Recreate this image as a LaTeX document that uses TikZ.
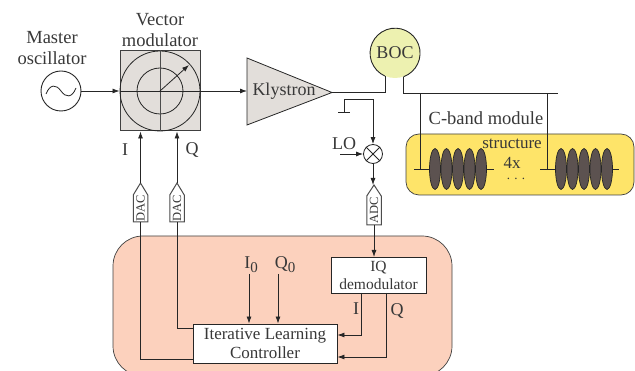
\documentclass[tikz,border=0pt]{standalone}
\usepackage{fontspec}
\setmainfont{Liberation Serif}
\usetikzlibrary{arrows.meta}
\newcommand{\fs}[1]{\fontsize{#1}{#1}\selectfont}
\tikzset{
  x=1pt,y=-1pt,
  wire/.style={draw=black!85,line width=0.8pt},
  arr/.style={wire,-{Latex[length=7pt,width=5pt]}},
  lbl/.style={inner sep=0pt,text=black!78,align=center,font=\fs{18.5}},
  ctrl/.style={draw=black!85,line width=0.9pt,fill=white,inner sep=0pt,text=black!78,align=center},
  conv/.style={fill=white,inner sep=0pt,minimum width=14.5pt,minimum height=27pt,rotate=90,text=black!78,font=\fs{12.5}},
  roof/.style={draw=black!70,line width=1pt,line join=miter},
  cav/.style={draw=black!85,line width=0.7pt,fill=cavc,ellipse,minimum width=11pt,minimum height=41pt,inner sep=0pt},
  beam/.style={wire},
}
\usetikzlibrary{shapes.geometric}
\definecolor{boxc}{HTML}{E2DEDA}
\definecolor{yellowc}{HTML}{FEE469}
\definecolor{salmonc}{HTML}{FCD1BD}
\definecolor{bocc}{HTML}{EDF1B0}
\definecolor{cavc}{HTML}{5C5250}
\begin{document}
\begin{tikzpicture}
\useasboundingbox (0,0) rectangle (635,371);
% background regions
\begin{scope}
\clip (0,0) rectangle (635,371);
\draw[draw=black!75,line width=0.7pt,fill=salmonc,rounded corners=30pt] (113,236) rectangle (452,376);
\end{scope}
\draw[draw=black!75,line width=0.7pt,fill=yellowc,rounded corners=13pt] (406,134) rectangle (634,195);

% labels top-left
\node[lbl] at (52,48) {Master\\[3pt]oscillator};
\node[lbl] at (160,30) {Vector\\[3pt]modulator};

% oscillator
\node[circle,draw=black!85,line width=0.9pt,minimum size=40pt,inner sep=0pt] (osc) at (61,91) {};
\draw[black!85,line width=0.8pt] (46,94) .. controls (50,84) and (56,84) .. (61,91) .. controls (66,98) and (72,98) .. (76,88);

% vector modulator
\node[draw=black!75,line width=1pt,fill=boxc,minimum size=80pt,inner sep=0pt] (vm) at (160,91) {};
\node[circle,draw=black!85,line width=0.8pt,minimum size=80pt,inner sep=0pt] (vmo) at (vm.center) {};
\node[circle,draw=black!85,line width=0.8pt,minimum size=46pt,inner sep=0pt] (vmi) at (vm.center) {};
\draw[wire,black!70] (vm.north) -- (vm.south);
\draw[wire] (vm.west) -- (vm.east);
\coordinate (vmtip) at (189,65);
\draw[arr] (vm.center) -- (vmtip);

% klystron
\coordinate (kw) at (247,91);
\coordinate (kt) at (332,92.5);
\draw[draw=black!85,line width=0.8pt,fill=boxc] (247,58) -- (kt) -- (247,125) -- cycle;
\node[lbl,font=\fs{18}] (kly) at (284,91) {Klystron};

\draw[arr] (osc.east) -- (vm.west);
\draw[arr] (vm.east) -- (kw);

% BOC
\node[circle,fill=bocc,minimum size=50pt,inner sep=0pt,text=black!78,font=\fs{18}] (boc) at (395,53) {BOC};
\draw[black!85,line width=0.9pt] (boc.-70) arc[start angle=-70,end angle=246,radius=25pt];
\coordinate (bend1) at (385,92.5);
\coordinate (bend) at (403,94);
\coordinate (wgend) at (558,94);
\draw[wire,line width=1pt] (kt) -- (bend1) -- (bend1 |- boc.246);
\draw[wire,line width=1pt] (bend |- boc.-70) -- (bend) -- (wgend);

% LO branch
\coordinate (gnd) at (344,112);
\coordinate (gl) at (338,112);
\coordinate (gr) at (350,112);
\draw[wire] (gl) -- (gr);
\node[circle,draw=black!85,line width=0.8pt,fill=white,minimum size=19pt,inner sep=0pt] (mix) at (373,154) {};
\draw[wire] (mix.north west) -- (mix.south east);
\draw[wire] (mix.north east) -- (mix.south west);
\draw[arr] (gnd) -- (344,99) -- (373,99) -- (mix.north);
\node[lbl,font=\fs{18}] (lo) at (344,144) {LO};
\coordinate (lofree) at (340,154);
\draw[arr] (lofree) -- (mix.west);

% accelerating structures
\draw[beam] (414,169) -- (494,169);
\draw[beam] (540,169) -- (619,169);
\draw[wire] (420,94) -- (420,169);
\draw[wire] (547,94) -- (547,169);
\foreach \n/\x in {a/435,b/446.5,c/458,d/469.5,e/481,f/561,g/572.5,h/584,i/595.5,j/607}{
  \node[cav] (cav\n) at (\x,169) {};
}
\node[lbl] (cband) at (486,118) {C-band module};
\node[lbl,font=\fs{17}] (st) at (512,144) {structure};
\node[lbl,font=\fs{17}] (fx) at (512,163) {4x};
\node[lbl,font=\fs{13}] (dots) at (516,178.5) {. . .};

% converters
\foreach \n/\x/\t in {dac1/140.5/DAC,dac2/177/DAC}{
  \node[conv] (\n) at (\x,208.5) {\t};
  \coordinate (\n t) at (\x,183);
  \coordinate (\n l) at (\x-7.25,195);
  \coordinate (\n r) at (\x+7.25,195);
  \draw[roof,fill=white] (\n t) -- (\n r) -- (\x+7.25,222) -- (\x-7.25,222) -- (\n l) -- cycle;
  \node[conv,fill=none] at (\n) {\t};
}
\node[conv,minimum height=29pt] (adc) at (374,210) {ADC};
\coordinate (adct) at (374,185);
\draw[roof,fill=white] (adct) -- (381.25,196) -- (381.25,225) -- (366.75,225) -- (366.75,196) -- cycle;
\node[conv,fill=none] at (adc) {ADC};

\draw[arr] (mix.south) -- (373,185);
\draw[arr] (dac1t) -- (dac1t |- vm.south);
\draw[arr] (dac2t) -- (dac2t |- vm.south);
\node[lbl,font=\fs{18}] (li) at (125,150) {I};
\node[lbl,font=\fs{18}] (lq) at (192,150) {Q};

% lower block
\node[ctrl,font=\fs{15.5},minimum width=95pt,minimum height=36pt] (iq) at (378.5,275) {IQ\\[2.5pt]demodulator};
\node[ctrl,font=\fs{17},minimum width=144pt,minimum height=39pt] (ilc) at (265,343.5) {Iterative Learning\\[2pt]Controller};
\draw[arr] (374,225) -- (374,257);
\coordinate (iqi) at (361,293);
\coordinate (iqq) at (386,293);
\draw[arr] (iqi) -- (361,335) -- (ilc.east |- 0,335);
\draw[arr] (iqq) -- (386,357) -- (ilc.east |- 0,357);
\node[lbl,font=\fs{18}] (li2) at (356,309) {I};
\node[lbl,font=\fs{18}] (lq2) at (397,311) {Q};
\node[lbl,font=\fs{18}] (i0) at (251,265) {I\raisebox{-4pt}{\fs{15}0}};
\node[lbl,font=\fs{18}] (q0) at (285,265) {Q\raisebox{-4pt}{\fs{15}0}};
\coordinate (i0s) at (249,274);
\coordinate (q0s) at (278,274);
\draw[arr] (i0s) -- (i0s |- ilc.north);
\draw[arr] (q0s) -- (q0s |- ilc.north);
\draw[wire] (140.5,222) -- (140.5,359) -- (ilc.west |- 0,359);
\draw[wire] (177,222) -- (177,328) -- (ilc.west |- 0,328);
\end{tikzpicture}
\end{document}
